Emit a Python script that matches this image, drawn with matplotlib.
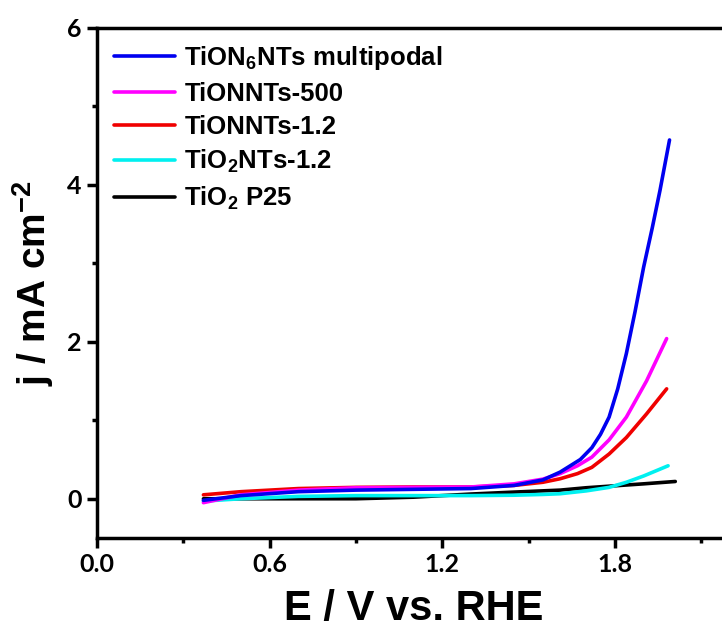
import matplotlib
matplotlib.use("Agg")
import matplotlib.pyplot as plt
from matplotlib.ticker import MultipleLocator, FixedLocator, FormatStrFormatter

plt.rcParams['font.family'] = ['Liberation Sans', 'DejaVu Sans']
plt.rcParams['font.weight'] = 'bold'
plt.rcParams['mathtext.fontset'] = 'custom'
plt.rcParams['mathtext.rm'] = 'Liberation Sans:bold'
plt.rcParams['mathtext.it'] = 'Liberation Sans:bold'
plt.rcParams['mathtext.bf'] = 'Liberation Sans:bold'
plt.rcParams['mathtext.default'] = 'rm'

labels = [r'TiON$_6$NTs multipodal', 'TiONNTs-500', 'TiONNTs-1.2',
          r'TiO$_2$NTs-1.2', r'TiO$_2$ P25']
colors = ['#0000F0', '#FF00FF', '#F00000', '#00F0F0', '#000000']

x_major_ticks = [0.0, 0.6, 1.2, 1.8]

E_blue = [0.37, 0.5, 0.7, 0.9, 1.1, 1.3, 1.45, 1.55, 1.61, 1.68, 1.72, 1.75, 1.78, 1.81, 1.84, 1.87, 1.90, 1.93, 1.957, 1.99]
j_blue = [-0.02, 0.04, 0.09, 0.11, 0.12, 0.13, 0.17, 0.24, 0.34, 0.50, 0.65, 0.82, 1.04, 1.40, 1.85, 2.38, 2.95, 3.45, 3.93, 4.57]

E_mag = [0.37, 0.5, 0.7, 0.9, 1.1, 1.3, 1.45, 1.55, 1.61, 1.67, 1.72, 1.78, 1.84, 1.91, 1.98]
j_mag = [-0.05, 0.05, 0.11, 0.14, 0.145, 0.15, 0.19, 0.25, 0.32, 0.42, 0.53, 0.75, 1.04, 1.50, 2.04]

E_red = [0.37, 0.5, 0.7, 0.9, 1.1, 1.3, 1.45, 1.55, 1.61, 1.67, 1.72, 1.78, 1.84, 1.91, 1.98]
j_red = [0.05, 0.09, 0.13, 0.145, 0.15, 0.15, 0.17, 0.21, 0.255, 0.32, 0.40, 0.57, 0.78, 1.08, 1.40]

E_cyan = [0.37, 0.5, 0.7, 0.9, 1.1, 1.3, 1.45, 1.55, 1.61, 1.70, 1.78, 1.84, 1.90, 1.985]
j_cyan = [-0.03, 0.0, 0.03, 0.04, 0.04, 0.04, 0.045, 0.055, 0.064, 0.10, 0.145, 0.21, 0.29, 0.42]

E_black = [0.37, 0.5, 0.7, 0.9, 1.1, 1.3, 1.45, 1.61, 1.70, 1.78, 1.90, 2.01]
j_black = [0.0, 0.0, 0.0, 0.0, 0.02, 0.06, 0.085, 0.11, 0.14, 0.16, 0.19, 0.22]

series = [(E_blue, j_blue), (E_mag, j_mag), (E_red, j_red), (E_cyan, j_cyan), (E_black, j_black)]

fig = plt.figure(figsize=(7.22, 6.28), dpi=100)
ax = fig.add_axes([0.1343, 0.1433, 0.8767, 0.8126])

lines = []
for i in [4, 3, 2, 1, 0]:
    E, j = series[i]
    ln, = ax.plot(E, j, color=colors[i], lw=2.6, label=labels[i],
                  solid_capstyle='round', solid_joinstyle='round')
    lines.append((i, ln))
lines.sort()
handles = [l for _, l in lines]

ax.set_xlim(0, 2.2)
ax.set_ylim(-0.5, 6)
ax.xaxis.set_major_locator(FixedLocator(x_major_ticks))
ax.xaxis.set_minor_locator(FixedLocator([0.3, 0.9, 1.5, 2.1]))
ax.yaxis.set_major_locator(MultipleLocator(2))
ax.yaxis.set_minor_locator(MultipleLocator(1))
ax.xaxis.set_major_formatter(FormatStrFormatter('%.1f'))

for s in ax.spines.values():
    s.set_linewidth(2.5)
ax.tick_params(which='major', direction='out', length=7, width=2.5, labelsize=18, pad=4)
ax.tick_params(which='minor', direction='out', length=3.5, width=2.5)
for t in ax.get_xticklabels() + ax.get_yticklabels():
    t.set_fontfamily(['Lato', 'DejaVu Sans'])
    t.set_fontweight('bold')

ax.set_xlabel('E / V vs. RHE', fontsize=30, fontweight='bold', labelpad=9)
ax.set_ylabel(r'j / mA cm$^{-2}$', fontsize=28, fontweight='bold', labelpad=8)

leg = ax.legend(handles=handles, loc='upper left', bbox_to_anchor=(0.0, 1.0),
                frameon=False, fontsize=18.5, handlelength=2.4, handletextpad=0.35,
                labelspacing=0.36, borderaxespad=0.25)

fig.savefig('out.png', dpi=100)
